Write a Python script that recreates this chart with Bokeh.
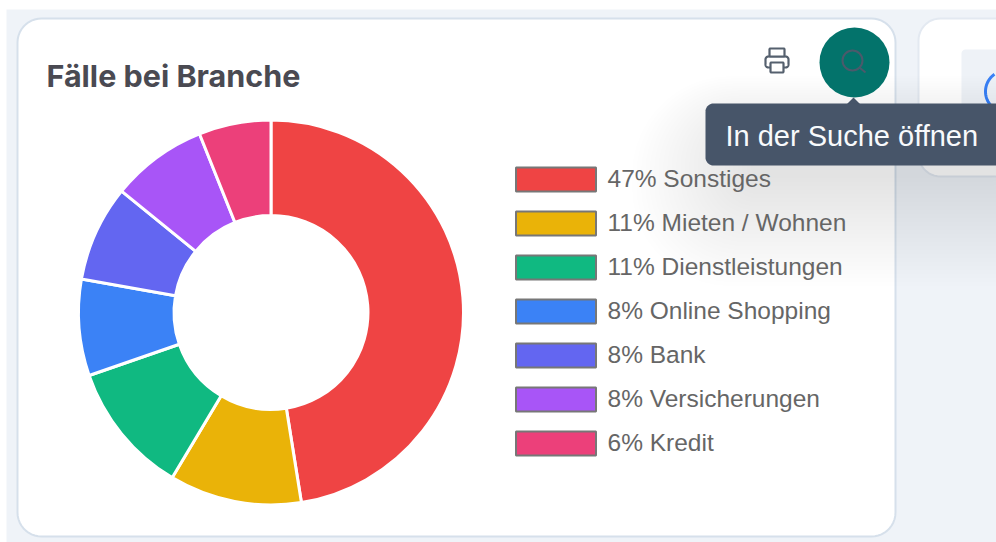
import numpy as np
from bokeh.embed import file_html
from bokeh.models import Range1d, ColumnDataSource
from bokeh.plotting import figure
from bokeh.resources import INLINE
from bokeh.core.properties import value

categories = ["Sonstiges", "Mieten / Wohnen", "Dienstleistungen", "Online Shopping", "Bank", "Versicherungen", "Kredit"]
percents = [47, 11, 11, 8, 8, 8, 6]
colors = ["#EF4444", "#EAB308", "#10B981", "#3B82F6", "#6366F1", "#A855F7", "#EC407A"]
title_text = "Fälle bei Branche"
tooltip_text = "In der Suche öffnen"

W, H = 996, 542
p = figure(width=W, height=H, output_backend="svg", toolbar_location=None,
           x_range=Range1d(0, W), y_range=Range1d(0, H), min_border=0)
p.xaxis.visible = False
p.yaxis.visible = False
p.grid.visible = False
p.outline_line_color = None
p.background_fill_color = "#ffffff"
p.border_fill_color = "#ffffff"


def Y(v):
    return H - np.asarray(v, dtype=float)


def rrect(x0, y0, x1, y1, r):
    xs, ys = [], []
    for cx, cy, a0 in [(x1 - r, y0 + r, -90), (x1 - r, y1 - r, 0), (x0 + r, y1 - r, 90), (x0 + r, y0 + r, 180)]:
        t = np.radians(np.linspace(a0, a0 + 90, 12))
        xs += list(cx + r * np.cos(t))
        ys += list(cy + r * np.sin(t))
    return xs, list(Y(ys))


def box(x0, y0, x1, y1, r, fill, line=None, lw=0, alpha=1.0):
    xs, ys = rrect(x0, y0, x1, y1, r)
    p.patch(xs, ys, fill_color=fill, fill_alpha=alpha, line_color=line, line_width=lw)


# page and cards
box(6, 9, 1000, 545, 0, "#EFF3F8")
box(17, 18, 895, 536, 24, "#FFFFFF", "#D6E0EB", 2)
box(918, 18, 1020, 176, 22, "#FFFFFF", "#E3E9F1", 2)
box(961, 49, 1010, 110, 4, "#EEF2F7")
t = np.radians(np.linspace(125, 235, 30))
p.line(1006 + 21 * np.cos(t), Y(91 + 21 * np.sin(t)), line_color="#3B82F6", line_width=3)

# tooltip shadow
for k in range(0, 110, 4):
    box(750 - k * 1.1, 140 - k * 0.6, 1000 + k, 178 + k, 12 + k * 0.8, "#000000", alpha=0.005)

# donut
vals = np.array(percents, dtype=float)
cum = np.concatenate([[0], np.cumsum(vals)]) / vals.sum() * 2 * np.pi
src = ColumnDataSource(dict(start=np.pi / 2 - cum[1:], end=np.pi / 2 - cum[:-1], color=colors))
p.annular_wedge(x=270.5, y=H - 312, inner_radius=97, outer_radius=192.5, start_angle="start", end_angle="end",
                fill_color="color", line_color="#FFFFFF", line_width=3, source=src)

# legend
rows = 179 + 44 * np.arange(len(categories))
labels = [f"{v}% {c}" for v, c in zip(percents, categories)]
leg = ColumnDataSource(dict(y=Y(rows), label=labels, color=colors))
p.rect(x=555.5, y="y", width=80, height=24, fill_color="color", line_color="#777777", line_width=2, source=leg)
p.text(x=607, y=Y(rows - 1), text=labels, text_font=value("Liberation Sans"), text_font_size="24.5px",
       text_color="#666666", text_baseline="middle")

# title
p.text(x=[46], y=[H - 75], text=[title_text], text_font=value("Inter"), text_font_size="30.5px", text_font_style="bold",
       text_color="#4A4A52", text_baseline="middle")

# printer icon
ic = "#55606E"
box(765, 56, 788, 67, 3, "#FFFFFF", ic, 2.2)
box(769, 48, 784, 56, 1, "#FFFFFF", ic, 2.2)
box(770, 62, 783, 72, 1, "#FFFFFF", ic, 2.2)

# search button
p.scatter(x=[854], y=[H - 62], size=70, marker="circle", fill_color="#03736B", line_color=None)
p.scatter(x=[852], y=[H - 60], size=20, marker="circle", fill_color=None, line_color="#4B5A6B", line_width=2)
p.line([859, 865], Y([67, 72]), line_color="#4B5A6B", line_width=2)

# tooltip
p.patch([846, 853, 860], Y([104, 97, 104]), fill_color="#475569", line_color=None)
box(705, 103, 1010, 165, 8, "#475569")
p.text(x=[725], y=[H - 135], text=[tooltip_text], text_font=value("Liberation Sans"), text_font_size="29px",
       text_color="#F8FAFC", text_baseline="middle")

open("out.html", "w").write(file_html(p, INLINE))
